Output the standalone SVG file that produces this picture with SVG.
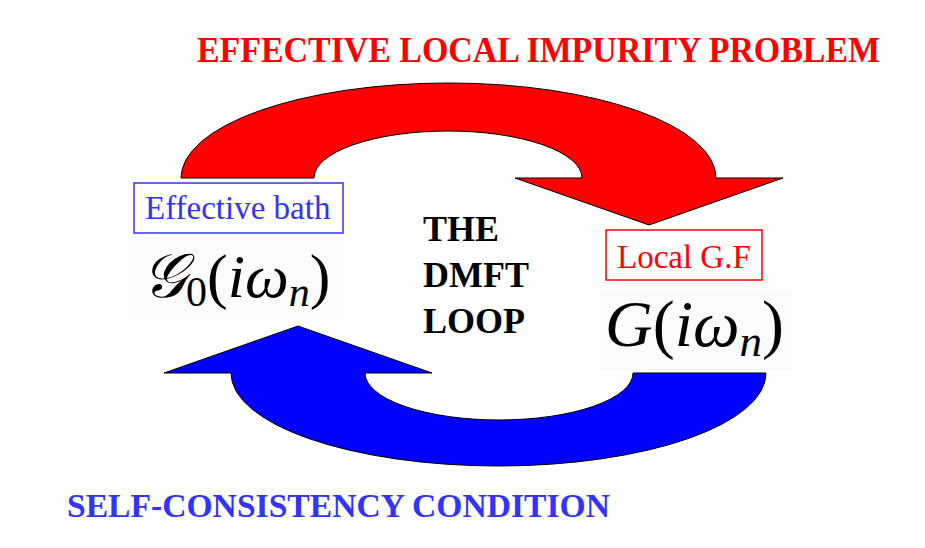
<svg xmlns="http://www.w3.org/2000/svg" width="925" height="548" viewBox="0 0 925 548">
<style>
.arrow{stroke:#000;stroke-width:1;stroke-linejoin:miter;}
</style>
<rect width="925" height="548" fill="#fff"/>
<text font-family="Liberation Serif, serif" font-weight="bold" x="197" y="62" font-size="36" fill="#ff0000" textLength="683" lengthAdjust="spacingAndGlyphs">EFFECTIVE LOCAL IMPURITY PROBLEM</text>
<text font-family="Liberation Serif, serif" font-weight="bold" x="67" y="517" font-size="33" fill="#3333ff" textLength="543" lengthAdjust="spacingAndGlyphs">SELF-CONSISTENCY CONDITION</text>
<g id="connectors">
<path id="red-arrow" class="arrow" fill="#ff0000" d="M181,178 A267.5,95 0 0 1 716,178 L783,178 L649,225 L515,178 L582,178 A134,47 0 0 0 314,178 Z"/>
<path id="blue-arrow" class="arrow" fill="#0000ff" d="M766,373 A267.5,93 0 0 1 231,373 L164,373 L298,326 L432,373 L365,373 A134,47 0 0 0 633,373 Z"/>
</g>
<g id="bath">
<rect x="128" y="237" width="217" height="83" fill="#fbfbfb"/>
<rect x="134" y="183" width="209" height="50" fill="#fff" stroke="#3333ff" stroke-width="1.5"/>
<text font-family="Liberation Serif, serif" font-size="33" x="145" y="219" fill="#3333ff">Effective bath</text>
<text font-family="Liberation Serif, serif" x="142" y="297" font-size="62" fill="#000"><tspan font-style="italic">𝒢</tspan><tspan font-size="42" dy="9">0</tspan><tspan dy="-9">(</tspan><tspan font-style="italic">iω</tspan><tspan font-size="42" font-style="italic" dy="9">n</tspan><tspan dy="-9">)</tspan></text>
</g>
<g id="local">
<rect x="600" y="290" width="193" height="80" fill="#fbfbfb"/>
<rect x="606" y="230" width="156" height="50" fill="#fff" stroke="#ff0000" stroke-width="1.5"/>
<text font-family="Liberation Serif, serif" font-size="33" x="617" y="268" fill="#ff0000">Local G.F</text>
<text font-family="Liberation Serif, serif" x="605" y="346" font-size="66" fill="#000"><tspan font-style="italic">G</tspan>(<tspan font-style="italic">iω</tspan><tspan font-size="45" font-style="italic" dy="10">n</tspan><tspan dy="-10">)</tspan></text>
</g>
<g id="center">
<text font-family="Liberation Serif, serif" font-weight="bold" font-size="36" fill="#000"><tspan x="423" y="241">THE</tspan><tspan x="423" y="287">DMFT</tspan><tspan x="423" y="333">LOOP</tspan></text>
</g>
</svg>
